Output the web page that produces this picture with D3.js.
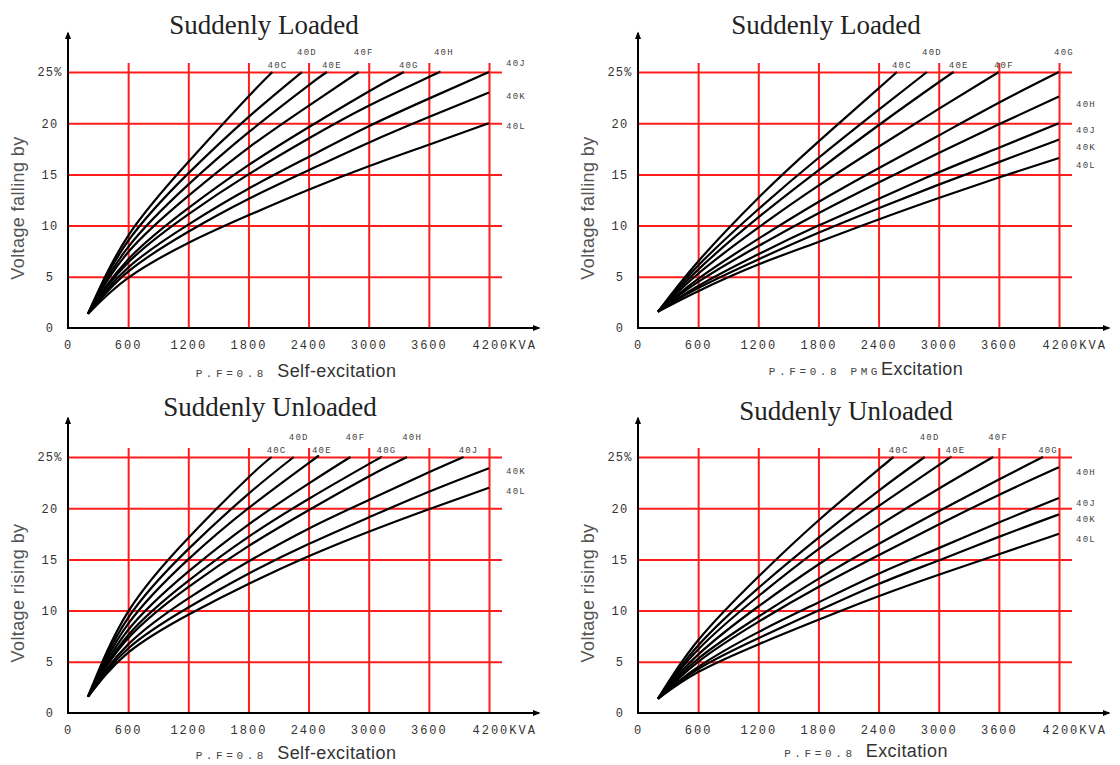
<!DOCTYPE html>
<html>
<head>
<meta charset="utf-8">
<script src="https://cdn.jsdelivr.net/npm/d3@7"></script>
<style>
  body { margin: 0; background: #fff; }
</style>
</head>
<body>
<div id="chart"></div>
<script>
// generator sets, same for all four charts
const models = ["40C", "40D", "40E", "40F", "40G", "40H", "40J", "40K", "40L"];
const kvaSteps = [200, 600, 1200, 1800, 2400, 3000, 3600];
const xTicks = [0, 600, 1200, 1800, 2400, 3000, 3600, 4200];
const yTicks = [0, 5, 10, 15, 20, 25];

// suddenly loaded, self-excitation (% at kvaSteps, then end point)
const loadSelf = [
    [1.4, 9.0, 16.2, 22.6],
    [1.4, 8.5, 15.1, 20.6],
    [1.4, 7.9, 14.0, 19.1, 23.7],
    [1.4, 7.4, 12.9, 17.6, 21.7],
    [1.4, 6.7, 11.7, 15.9, 19.6, 23.1],
    [1.4, 6.4, 11.1, 15.0, 18.5, 21.7, 24.5],
    [1.4, 5.9, 10.1, 13.6, 16.7, 19.7, 22.4],
    [1.4, 5.5, 9.4, 12.6, 15.4, 18.1, 20.6],
    [1.4, 4.9, 8.3, 11.0, 13.5, 15.8, 17.9]
];
const loadSelfEndKva = [2040, 2334, 2583, 2900, 3350, 3700, 4200, 4200, 4200];
const loadSelfEndPct = [25, 25, 25, 25, 25, 25, 25, 23.0, 20.0];

// suddenly loaded, PMG excitation
const loadPmg = [
    [1.6, 6.5, 12.7, 18.2, 23.4],
    [1.6, 6.1, 11.6, 16.6, 21.3],
    [1.6, 5.7, 10.8, 15.4, 19.8, 24.0],
    [1.6, 5.3, 9.8, 13.9, 17.7, 21.4],
    [1.6, 4.8, 8.7, 12.3, 15.6, 18.8, 22.0],
    [1.6, 4.5, 8.0, 11.2, 14.2, 17.1, 19.9],
    [1.6, 4.1, 7.2, 10.0, 12.6, 15.2, 17.6],
    [1.6, 3.9, 6.7, 9.3, 11.7, 14.0, 16.2],
    [1.6, 3.6, 6.2, 8.4, 10.6, 12.7, 14.7]
];
const loadPmgEndKva = [2583, 2883, 3150, 3600, 4200, 4200, 4200, 4200, 4200];
const loadPmgEndPct = [25, 25, 25, 25, 25, 22.6, 20.0, 18.4, 16.6];

// suddenly unloaded, self-excitation
const unloadSelf = [
    [1.6, 9.9, 17.1, 23.0],
    [1.6, 9.3, 16.0, 21.4],
    [1.6, 8.7, 15.0, 20.0, 24.4],
    [1.6, 8.1, 13.8, 18.4, 22.4],
    [1.6, 7.6, 12.9, 17.2, 20.9, 24.3],
    [1.6, 7.3, 12.3, 16.3, 19.8, 23.1],
    [1.6, 6.7, 11.2, 14.8, 18.0, 20.8, 23.5],
    [1.6, 6.3, 10.3, 13.6, 16.5, 19.1, 21.6],
    [1.6, 5.9, 9.6, 12.6, 15.3, 17.7, 19.9]
];
const unloadSelfEndKva = [2031, 2252, 2483, 2817, 3127, 3383, 3946, 4200, 4200];
const unloadSelfEndPct = [25, 25, 25, 25, 25, 25, 25, 23.9, 22.0];

// suddenly unloaded, excitation
const unloadExc = [
    [1.4, 7.1, 13.3, 18.8, 23.8],
    [1.4, 6.6, 12.2, 17.1, 21.7],
    [1.4, 6.2, 11.4, 16.0, 20.2, 24.2],
    [1.4, 5.7, 10.4, 14.5, 18.3, 21.9],
    [1.4, 5.3, 9.4, 13.1, 16.5, 19.7, 22.8],
    [1.4, 5.0, 8.9, 12.3, 15.4, 18.4, 21.3],
    [1.4, 4.5, 7.9, 10.8, 13.6, 16.1, 18.6],
    [1.4, 4.3, 7.3, 10.0, 12.6, 14.9, 17.2],
    [1.4, 4.0, 6.7, 9.1, 11.4, 13.5, 15.5]
];
const unloadExcEndKva = [2550, 2860, 3117, 3543, 4041, 4200, 4200, 4200, 4200];
const unloadExcEndPct = [25, 25, 25, 25, 25, 24.0, 21.0, 19.4, 17.5];

const width = 1120, height = 765;
const red = '#ff1c1c';
const mono = '"Liberation Mono", "DejaVu Sans Mono", monospace';
const sans = '"Liberation Sans", Arial, sans-serif';
const serif = '"Liberation Serif", "Times New Roman", serif';

const panels = [
    { x0: 68, y0: 328, top: 33, title: 'Suddenly Loaded', titleX: 196, titleY: 34,
      yLabel: 'Voltage falling by', capMono: 'P.F=0.8 ', capSans: 'Self-excitation', capY: 377,
      data: loadSelf, endKva: loadSelfEndKva, endPct: loadSelfEndPct, rtDy: 3,
      place: ['lo', 'hi', 'lo', 'hi', 'lo', 'hi', 'rt', 'rt', 'rt'] },
    { x0: 638, y0: 328, top: 33, title: 'Suddenly Loaded', titleX: 188, titleY: 34,
      yLabel: 'Voltage falling by', capMono: 'P.F=0.8 PMG', capSans: 'Excitation', capY: 375,
      data: loadPmg, endKva: loadPmgEndKva, endPct: loadPmgEndPct, rtDy: 7,
      place: ['lo', 'hi', 'lo', 'lo', 'hi', 'rt', 'rt', 'rt', 'rt'] },
    { x0: 68, y0: 713, top: 418, title: 'Suddenly Unloaded', titleX: 202, titleY: 416,
      yLabel: 'Voltage rising by', capMono: 'P.F=0.8 ', capSans: 'Self-excitation', capY: 759,
      data: unloadSelf, endKva: unloadSelfEndKva, endPct: unloadSelfEndPct, rtDy: 3,
      place: ['lo', 'hi', 'lo', 'hi', 'lo', 'hi', 'lo', 'rt', 'rt'] },
    { x0: 638, y0: 713, top: 418, title: 'Suddenly Unloaded', titleX: 208, titleY: 420,
      yLabel: 'Voltage rising by', capMono: 'P.F=0.8 ', capSans: 'Excitation', capY: 757,
      data: unloadExc, endKva: unloadExcEndKva, endPct: unloadExcEndPct, rtDy: 5,
      place: ['lo', 'hi', 'lo', 'hi', 'lo', 'rt', 'rt', 'rt', 'rt'] }
];

const svg = d3.select('#chart').append('svg')
    .attr('width', width)
    .attr('height', height);

svg.append('defs').append('marker')
    .attr('id', 'arrow')
    .attr('viewBox', '0 0 10 10')
    .attr('refX', 8).attr('refY', 5)
    .attr('markerWidth', 4).attr('markerHeight', 4)
    .attr('orient', 'auto')
    .append('path')
    .attr('d', 'M0,1 L10,5 L0,9 Z')
    .attr('fill', '#000');

function drawPanel(p) {
    let x = d3.scaleLinear().domain([0, 4200]).range([p.x0, p.x0 + 421]);
    let y = d3.scaleLinear().domain([0, 25]).range([p.y0, p.y0 - 256]);
    let g = svg.append('g');

    // red grid
    g.append('g')
        .attr('transform', 'translate(0,' + p.y0 + ')')
        .call(d3.axisBottom(x).tickValues(xTicks.slice(1)).tickSize(-265).tickFormat(''))
        .call(a => a.select('.domain').remove())
        .selectAll('line').attr('stroke', red).attr('stroke-width', 2);

    g.append('g')
        .attr('transform', 'translate(' + p.x0 + ',0)')
        .call(d3.axisLeft(y).tickValues(yTicks.slice(1)).tickSize(-434).tickFormat(''))
        .call(a => a.select('.domain').remove())
        .selectAll('line').attr('stroke', red).attr('stroke-width', 2);

    // tick labels
    let yl = g.append('g')
        .attr('transform', 'translate(' + p.x0 + ',0)')
        .call(d3.axisLeft(y).tickValues(yTicks).tickSize(0).tickPadding(0)
            .tickFormat(d => d === 25 ? '25%' : d));
    yl.select('.domain').remove();
    yl.selectAll('text')
        .attr('x', -18).attr('text-anchor', 'middle')
        .attr('font-family', mono).attr('font-size', 12)
        .attr('letter-spacing', 1.2).attr('fill', '#333');

    let xl = g.append('g')
        .attr('transform', 'translate(0,' + p.y0 + ')')
        .call(d3.axisBottom(x).tickValues(xTicks).tickSize(0).tickPadding(12)
            .tickFormat(d => d === 4200 ? '4200KVA' : d));
    xl.select('.domain').remove();
    xl.selectAll('text')
        .attr('font-family', mono).attr('font-size', 12)
        .attr('letter-spacing', 2.0).attr('fill', '#333')
        .filter(d => d === 4200)
        .attr('text-anchor', 'start').attr('x', -17);

    // axes
    g.append('line')
        .attr('x1', p.x0).attr('y1', p.y0 + 1)
        .attr('x2', p.x0).attr('y2', p.top)
        .attr('stroke', '#000').attr('stroke-width', 2)
        .attr('marker-end', 'url(#arrow)');
    g.append('line')
        .attr('x1', p.x0 - 1).attr('y1', p.y0)
        .attr('x2', p.x0 + 471).attr('y2', p.y0)
        .attr('stroke', '#000').attr('stroke-width', 2)
        .attr('marker-end', 'url(#arrow)');

    // curves
    let line = d3.line()
        .x(d => x(d.kva))
        .y(d => y(d.pct))
        .curve(d3.curveNatural);

    let series = models.map((m, i) => {
        let pts = p.data[i].map((v, j) => ({ kva: kvaSteps[j], pct: v }));
        pts.push({ kva: p.endKva[i], pct: p.endPct[i] });
        return { name: m, pts: pts, place: p.place[i] };
    });

    g.selectAll('.curve')
        .data(series)
        .enter()
        .append('path')
        .attr('class', 'curve')
        .attr('fill', 'none')
        .attr('stroke', '#000')
        .attr('stroke-width', 2.2)
        .attr('d', d => line(d.pts));

    g.selectAll('.clabel')
        .data(series)
        .enter()
        .append('text')
        .attr('class', 'clabel')
        .attr('x', d => d.place === 'rt' ? x(4200) + 27 : x(d.pts[d.pts.length - 1].kva) + 5)
        .attr('y', d => {
            let last = d.pts[d.pts.length - 1];
            if (d.place === 'hi') return y(25) - 20;
            if (d.place === 'lo') return y(25) - 7;
            if (last.pct >= 25) return y(25) - 9;
            return y(last.pct) + p.rtDy;
        })
        .attr('dy', '0.35em')
        .attr('text-anchor', 'middle')
        .attr('font-family', mono)
        .attr('font-size', 9)
        .attr('letter-spacing', 1.2)
        .attr('fill', '#444')
        .text(d => d.name);

    // titles
    g.append('text')
        .attr('x', p.x0 + p.titleX).attr('y', p.titleY)
        .attr('text-anchor', 'middle')
        .attr('font-family', serif).attr('font-size', 27)
        .attr('fill', '#222')
        .text(p.title);

    g.append('text')
        .attr('transform', 'translate(' + (p.x0 - 44) + ',' + (p.y0 - 120) + ') rotate(-90)')
        .attr('text-anchor', 'middle')
        .attr('font-family', sans).attr('font-size', 18)
        .attr('letter-spacing', 0.4)
        .attr('fill', '#555')
        .text(p.yLabel);

    let cap = g.append('text')
        .attr('x', p.x0 + 228).attr('y', p.capY)
        .attr('text-anchor', 'middle');
    cap.append('tspan')
        .attr('font-family', mono).attr('font-size', 11)
        .attr('letter-spacing', 3.6).attr('fill', '#444')
        .text(p.capMono);
    cap.append('tspan')
        .attr('font-family', sans).attr('font-size', 18)
        .attr('letter-spacing', 0.4).attr('fill', '#333')
        .text(p.capSans);
}

panels.forEach(drawPanel);
</script>
</body>
</html>
